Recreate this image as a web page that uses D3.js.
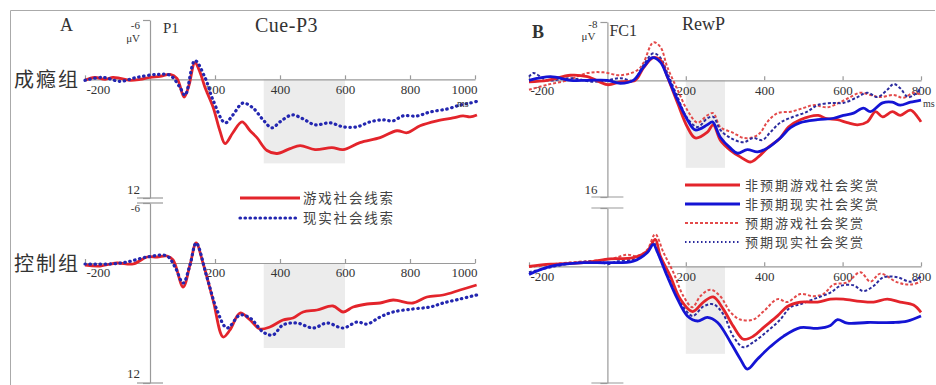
<!DOCTYPE html>
<html>
<head>
<meta charset="utf-8">
<script src="https://cdn.jsdelivr.net/npm/d3@7"></script>
<style>
  body { margin: 0; background: #fff; }
  svg { display: block; }
  .axis path, .axis line { stroke: #9a9a9a; stroke-width: 1.2; }
  .axis .tick text { font-family: "Liberation Serif", serif; font-size: 13px; fill: #333; }
  .serif { font-family: "Liberation Serif", serif; fill: #333; }
  .cjk { font-family: "Noto Sans CJK SC", sans-serif; fill: #444; }
</style>
</head>
<body>
<div id="chart"></div>
<script>
// ERP waveforms, [ms, μV] (negative is drawn up)

// Panel A, Cue-P3 at P1
const seriesA = ['游戏社会线索', '现实社会线索']
const groupsA = ['成瘾组', '控制组']
const ticksA = [-200, 200, 400, 600, 800, 1000]

const addictGame = [[-200,0.1],[-170,-0.2],[-138,0],[-114,-0.2],[-92,-0.1],[-62,0.1],[-30,0],[0,-0.2],[31,-0.3],[62,-0.5],[83,-0.1],[105,1.8],[120,0.6],[138,-1.7],[154,-0.7],[169,0.8],[194,2.8],[215,5.2],[231,6.5],[255,5.4],[283,4.3],[308,5.2],[329,5.9],[360,7.2],[391,7.5],[431,7.0],[462,6.7],[508,7.1],[560,6.9],[594,7.1],[646,6.4],[708,5.9],[760,5.2],[791,5.4],[831,4.7],[883,4.2],[932,3.9],[963,3.7],[985,3.8],[1006,3.6]]
const addictReal = [[-200,0.1],[-145,-0.2],[-92,0.2],[-40,-0.2],[22,-0.5],[62,-0.4],[92,0.8],[108,1.6],[138,-1.9],[169,-0.2],[194,2.1],[231,4.4],[255,3.6],[286,2.4],[317,2.9],[348,4.1],[375,4.9],[400,4.3],[437,3.6],[471,4.0],[508,4.6],[554,4.4],[594,4.8],[637,4.8],[677,4.3],[717,4.1],[748,4.2],[778,3.7],[822,3.7],[862,3.3],[914,3.0],[954,2.6],[985,2.4],[1009,2.2]]
const controlGame = [[-200,0.2],[-154,0.3],[-102,0],[-52,0.1],[-9,-0.6],[22,-0.6],[52,-0.7],[71,-0.3],[102,2.4],[123,0.2],[142,-2.0],[163,0],[194,3.7],[225,7.4],[246,6.7],[277,5.0],[308,5.7],[338,6.6],[369,6.4],[409,5.7],[440,5.5],[471,4.9],[514,4.7],[563,4.3],[594,4.9],[625,4.4],[668,4.1],[708,4.0],[748,3.7],[809,4.0],[852,3.4],[902,3.2],[954,2.7],[1005,2.2]]
const controlReal = [[-200,0.1],[-123,0.1],[-71,-0.1],[-9,-0.6],[52,-0.7],[77,0.4],[102,2.0],[123,0.2],[142,-2.0],[175,1.4],[206,4.7],[237,6.5],[277,5.2],[308,5.5],[348,6.9],[378,7.2],[409,6.2],[452,6.0],[502,6.5],[545,6.0],[594,6.5],[637,5.9],[668,6.1],[708,5.4],[748,4.9],[809,4.6],[862,4.4],[902,4.0],[954,3.6],[1005,3.2]]

// Panel B, RewP at FC1
const seriesB = ['非预期游戏社会奖赏', '非预期现实社会奖赏', '预期游戏社会奖赏', '预期现实社会奖赏']
const ticksB = [-200, 200, 400, 600, 800]

const addictUnexpGame = [[-200,0.2],[-153,0],[-94,-0.7],[-51,-0.5],[0,0.6],[33,0.2],[71,0],[92,-1.7],[117,-3.1],[135,-2.8],[153,-0.5],[179,3.1],[204,6.4],[224,7.9],[255,7.1],[270,6.1],[288,8.2],[314,9.6],[339,10.5],[365,11.2],[385,10.5],[408,9.3],[441,7.9],[462,6.4],[492,5.4],[538,4.8],[556,5.2],[587,5.4],[612,5.8],[638,6.1],[663,5.7],[684,4.3],[702,5.0],[727,4.3],[747,4.8],[773,4.1],[791,5.0],[800,5.7]]
const addictUnexpReal = [[-200,0],[-145,-0.5],[-94,0],[-51,0],[0,0],[33,0.4],[66,0],[92,-1.8],[115,-3.1],[135,-2.5],[153,-0.5],[179,2.7],[204,5.4],[224,6.8],[255,6.1],[268,5.7],[288,7.8],[314,9.3],[332,10.0],[357,9.5],[383,9.8],[408,9.3],[441,7.9],[467,6.5],[492,5.8],[536,5.4],[577,5.2],[602,4.8],[628,4.5],[653,3.8],[671,4.3],[702,3.1],[727,3.0],[747,3.4],[773,3.0],[800,2.7]]
const addictExpGame = [[-200,1.3],[-153,0.6],[-102,0],[-51,-1.0],[-10,-1.1],[33,-0.7],[77,-1.4],[92,-2.4],[117,-5.2],[135,-4.6],[153,-1.8],[179,1.3],[204,4.1],[230,5.8],[255,4.8],[270,4.5],[288,6.4],[321,7.2],[347,7.9],[372,7.8],[390,7.2],[408,5.7],[434,4.5],[467,4.3],[500,3.8],[526,3.4],[561,3.7],[594,3.0],[620,2.3],[645,1.7],[671,2.0],[696,2.3],[730,2.0],[755,2.4],[781,1.7],[800,2.0]]
const addictExpReal = [[-200,-0.5],[-189,-1.0],[-153,0],[-94,-0.3],[-36,0.2],[0,0],[33,-0.3],[66,0],[92,-2.1],[117,-3.7],[135,-3.1],[153,-1.0],[179,2.3],[204,5.2],[230,6.4],[255,5.2],[270,5.0],[288,6.8],[314,7.9],[347,8.5],[372,7.9],[395,8.2],[416,7.1],[441,5.8],[474,5.0],[510,4.3],[536,3.4],[577,3.1],[602,3.1],[638,2.3],[663,1.7],[689,2.3],[714,1.3],[730,0.5],[747,1.1],[768,2.3],[791,1.6],[800,0.9]]

const controlUnexpGame = [[-200,0],[-145,-0.3],[-61,-0.5],[0,-1.0],[66,-1.2],[102,-2.1],[122,-3.7],[135,-1.4],[161,1.4],[186,4.5],[217,6.2],[245,4.9],[270,4.2],[296,5.9],[321,8.2],[347,10.0],[372,9.6],[398,8.4],[434,6.8],[459,5.5],[492,4.9],[536,4.9],[569,4.5],[602,4.5],[645,4.8],[679,4.9],[714,4.5],[747,4.9],[781,5.3],[800,6.3]]
const controlUnexpReal = [[-200,1.1],[-145,0],[-61,-0.5],[0,-0.5],[66,-0.7],[102,-1.9],[117,-3.0],[128,-1.9],[153,1.4],[179,4.5],[204,6.8],[230,7.5],[255,7.0],[281,7.7],[314,10.4],[339,12.7],[357,14.1],[383,12.7],[416,11.0],[449,9.6],[492,8.4],[536,8.5],[569,8.1],[587,7.3],[612,7.8],[663,7.7],[730,7.7],[765,7.5],[800,6.8]]
const controlExpGame = [[-200,0.1],[-102,-0.5],[8,-1.0],[51,-1.6],[77,-1.4],[102,-2.3],[122,-4.4],[143,-1.9],[168,0.8],[194,4.1],[217,5.6],[237,4.1],[263,3.2],[288,4.1],[314,6.3],[339,7.3],[372,7.3],[398,6.2],[434,4.5],[459,4.9],[492,3.8],[526,4.1],[551,3.8],[577,2.5],[612,2.2],[645,0.8],[671,2.1],[696,1.0],[740,2.2],[773,2.5],[800,2.1]]
const controlExpReal = [[-200,0.8],[-102,-0.3],[-18,-0.7],[0,-0.3],[26,-0.7],[66,-1.0],[102,-2.1],[117,-3.3],[135,-1.0],[161,1.8],[186,4.9],[217,6.8],[245,5.5],[270,5.2],[296,6.6],[321,9.6],[347,11.1],[372,10.4],[408,8.9],[441,7.3],[467,5.6],[492,5.2],[526,4.5],[569,3.6],[594,2.7],[628,2.6],[653,3.4],[679,2.7],[704,1.5],[740,1.5],[773,2.1],[800,1.4]]

// Analysis windows (ms) and their depth (μV)
const windowA = [350, 600, 8.5]
const windowB = [200, 300, 12]

// ---------------------------------------------------------------

const width = 936
const height = 385

const svg = d3.select('#chart')
  .append('svg')
  .attr('width', width)
  .attr('height', height)

// outer frame
svg.append('path')
  .attr('d', 'M10.5,385V10.5H935')
  .attr('fill', 'none')
  .attr('stroke', '#aaa')

// styles for the waveforms
const styleA = [
  { stroke: '#e3242b', width: 2.8, dash: null },
  { stroke: '#2326b0', width: 3.2, dash: '0.5 4.5' }
]
const styleB = [
  { stroke: '#e3242b', width: 2.8, dash: null },
  { stroke: '#1414d4', width: 2.8, dash: null },
  { stroke: '#e34a4a', width: 2, dash: '3 2' },
  { stroke: '#2b2b9e', width: 2, dash: '3 2' }
]

// Scales
const xA = d3.scaleLinear().domain([-200, 1000]).range([85, 475])
const yA1 = d3.scaleLinear().domain([-6, 12]).range([20, 198])
const yA2 = d3.scaleLinear().domain([-6, 12]).range([203, 383])
const xB = d3.scaleLinear().domain([-200, 800]).range([529, 921])
const yB1 = d3.scaleLinear().domain([-8, 16]).range([22, 197])
const yB2 = d3.scaleLinear().domain([-8, 16]).range([208, 383])

const shade = (x, y, win) => {
  svg.append('rect')
    .attr('x', x(win[0]))
    .attr('y', y(0))
    .attr('width', x(win[1]) - x(win[0]))
    .attr('height', y(win[2]) - y(0))
    .attr('fill', '#ececec')
}

const timeAxis = (x, y, ticks, clampLast) => {
  const g = svg.append('g')
    .attr('class', 'axis')
    .attr('transform', `translate(0,${y(0)})`)
    .call(d3.axisBottom(x)
      .tickValues(ticks)
      .tickSizeInner(-4)
      .tickSizeOuter(0)
      .tickPadding(5)
      .tickFormat(d => String(d)))
  g.selectAll('.tick text')
    .filter((d, i) => i === 0)
    .attr('text-anchor', 'start')
    .attr('dx', 1)
  if (clampLast) {
    g.selectAll('.tick text')
      .filter((d, i) => i === ticks.length - 1)
      .attr('text-anchor', 'end')
      .attr('dx', 2)
  }
  return g
}

// vertical voltage axis with labels next to its ends
const voltAxis = (x0, y, labels, offs) => {
  const g = svg.append('g')
    .attr('class', 'axis')
    .attr('transform', `translate(${x0},0)`)
    .call(d3.axisLeft(y)
      .tickValues(y.domain())
      .tickSize(7)
      .tickSizeOuter(0)
      .tickPadding(3)
      .tickFormat((d, i) => labels[i]))
  g.selectAll('.tick text')
    .attr('dy', (d, i) => offs[i])
    .style('font-size', (d, i) => i === 0 ? '11px' : '13px')
  return g
}

const breakMark = (x0, ys, half) => {
  ys.forEach(yy => {
    svg.append('line')
      .attr('x1', x0 - half).attr('x2', x0 + half)
      .attr('y1', yy).attr('y2', yy)
      .attr('stroke', '#9a9a9a')
      .attr('stroke-width', 1.2)
  })
}

const waves = (x, y, data, styles) => {
  const line = d3.line()
    .x(d => x(d[0]))
    .y(d => y(d[1]))
    .curve(d3.curveCatmullRom.alpha(0.5))
  data.forEach((d, i) => {
    svg.append('path')
      .datum(d)
      .attr('d', line)
      .attr('fill', 'none')
      .attr('stroke', styles[i].stroke)
      .attr('stroke-width', styles[i].width)
      .attr('stroke-dasharray', styles[i].dash)
      .attr('stroke-linecap', styles[i].dash && styles[i].dash.startsWith('0.5') ? 'round' : 'butt')
      .attr('stroke-linejoin', 'round')
  })
}

// ---- Panel A ----
shade(xA, yA1, windowA)
shade(xA, yA2, windowA)
timeAxis(xA, yA1, ticksA, true)
timeAxis(xA, yA2, ticksA, true)
voltAxis(xA(0), yA1, ['-6', '12'], ['0.8em', '-0.35em'])
voltAxis(xA(0), yA2, ['-6', '12'], ['0.75em', '-0.45em'])
breakMark(xA(0), [yA1.range()[1], yA2.range()[0]], 13)
breakMark(xA(0), [yA2.range()[1]], 13)

waves(xA, yA1, [addictGame, addictReal], styleA)
waves(xA, yA2, [controlGame, controlReal], styleA)

svg.append('text').attr('class', 'serif')
  .attr('x', xA(0) - 10).attr('y', 42)
  .attr('text-anchor', 'end').style('font-size', '11px')
  .text('μV')
svg.append('text').attr('class', 'serif')
  .attr('x', 60).attr('y', 31).style('font-size', '18px')
  .text('A')
svg.append('text').attr('class', 'serif')
  .attr('x', xA(0) + 13).attr('y', 33).style('font-size', '15px')
  .text('P1')
svg.append('text').attr('class', 'serif')
  .attr('x', 255).attr('y', 32).style('font-size', '20px')
  .style('letter-spacing', '0.5px')
  .text('Cue-P3')
svg.append('text').attr('class', 'serif')
  .attr('x', xA(1000) - 18).attr('y', 107).style('font-size', '10px')
  .text('ms')

svg.selectAll('.group')
  .data(groupsA)
  .enter().append('text')
  .attr('class', 'cjk group')
  .attr('x', 14)
  .attr('y', (d, i) => (i === 0 ? yA1(0) : yA2(0)) + 8)
  .style('font-size', '20px')
  .style('letter-spacing', '2px')
  .style('fill', '#333')
  .text(d => d)

// legend A
const legA = svg.append('g').attr('transform', 'translate(240,198)')
seriesA.forEach((name, i) => {
  legA.append('line')
    .attr('x1', 0).attr('x2', 60)
    .attr('y1', i * 20).attr('y2', i * 20)
    .attr('stroke', styleA[i].stroke)
    .attr('stroke-width', styleA[i].width)
    .attr('stroke-dasharray', styleA[i].dash)
    .attr('stroke-linecap', i === 1 ? 'round' : 'butt')
  legA.append('text')
    .attr('class', 'cjk')
    .attr('x', 63).attr('y', i * 20 + 5)
    .style('font-size', '13.5px')
    .style('letter-spacing', '1.8px')
    .text(name)
})

// ---- Panel B ----
shade(xB, yB1, windowB)
shade(xB, yB2, windowB)
timeAxis(xB, yB1, ticksB, false)
timeAxis(xB, yB2, ticksB, false)
voltAxis(xB(0), yB1, ['-8', '16'], ['0.5em', '-0.25em'])
voltAxis(xB(0), yB2, ['', ''], ['0', '0'])
breakMark(xB(0), [yB1.range()[1], yB2.range()[0]], 16)
breakMark(xB(0), [yB2.range()[1]], 16)

waves(xB, yB1, [addictExpGame, addictExpReal, addictUnexpGame, addictUnexpReal],
  [styleB[2], styleB[3], styleB[0], styleB[1]])
waves(xB, yB2, [controlExpGame, controlExpReal, controlUnexpGame, controlUnexpReal],
  [styleB[2], styleB[3], styleB[0], styleB[1]])

svg.append('text').attr('class', 'serif')
  .attr('x', xB(0) - 12).attr('y', 40)
  .attr('text-anchor', 'end').style('font-size', '11px')
  .text('μV')
svg.append('text').attr('class', 'serif')
  .attr('x', 532).attr('y', 38).style('font-size', '18px').style('font-weight', 'bold')
  .text('B')
svg.append('text').attr('class', 'serif')
  .attr('x', xB(0) + 2).attr('y', 36).style('font-size', '16px')
  .text('FC1')
svg.append('text').attr('class', 'serif')
  .attr('x', 682).attr('y', 30).style('font-size', '18px')
  .text('RewP')
svg.append('text').attr('class', 'serif')
  .attr('x', xB(800) + 2).attr('y', 107).style('font-size', '10px')
  .text('ms')

// legend B
const legB = svg.append('g').attr('transform', 'translate(685,185)')
const legBy = [0, 19, 38, 57]
seriesB.forEach((name, i) => {
  legB.append('line')
    .attr('x1', 0).attr('x2', 55)
    .attr('y1', legBy[i]).attr('y2', legBy[i])
    .attr('stroke', styleB[i].stroke)
    .attr('stroke-width', styleB[i].width)
    .attr('stroke-dasharray', i === 3 ? '1.5 2.5' : styleB[i].dash)
  legB.append('text')
    .attr('class', 'cjk')
    .attr('x', 60).attr('y', legBy[i] + 5)
    .style('font-size', '13px')
    .style('letter-spacing', '2px')
    .text(name)
})
</script>
</body>
</html>
